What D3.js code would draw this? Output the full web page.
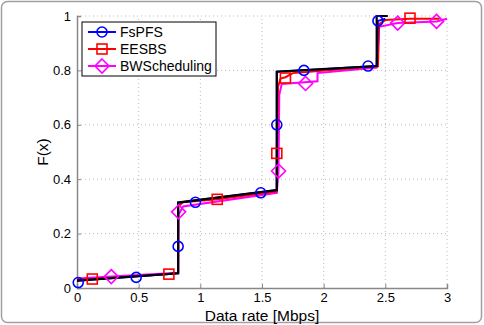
<!DOCTYPE html>
<html>
<head>
<meta charset="utf-8">
<script src="https://cdnjs.cloudflare.com/ajax/libs/d3/7.8.5/d3.min.js"></script>
<style>
  body { margin: 0; background: #fff; }
  svg { font-family: "Liberation Sans", Arial, sans-serif; }
</style>
</head>
<body>
<div id="chart"></div>
<script>
// empirical CDF curves (x = data rate in Mbps, y = F(x))
var reference = [[0,0.027],[0.82,0.054],[0.82,0.314],[1.62,0.36],[1.62,0.795],[2.43,0.816],[2.43,1.0],[2.52,1.0]];
var fspfsLine = [[0,0.027],[0.82,0.054],[0.82,0.314],[1.62,0.36],[1.62,0.795],[2.43,0.816],[2.44,0.982],[2.5,0.99]];
var fspfsMarks = [[0.01,0.02],[0.48,0.039],[0.82,0.153],[0.96,0.315],[1.49,0.35],[1.62,0.60],[1.84,0.80],[2.36,0.816],[2.44,0.982]];
var eesbsLine = [[0,0.03],[0.124,0.033],[0.745,0.051],[0.82,0.056],[0.82,0.30],[0.86,0.315],[1.137,0.326],[1.62,0.355],[1.62,0.495],[1.63,0.74],[1.65,0.77],[1.69,0.775],[1.75,0.79],[2.44,0.815],[2.45,0.97],[2.5,0.985],[2.7,0.99],[2.94,0.99]];
var eesbsMarks = [[0.124,0.033],[0.745,0.051],[1.137,0.326],[1.62,0.495],[1.69,0.772],[2.70,0.992]];
var bwLine = [[0,0.035],[0.278,0.042],[0.82,0.056],[0.824,0.27],[0.86,0.30],[1.62,0.35],[1.634,0.43],[1.64,0.71],[1.66,0.75],[1.95,0.76],[1.95,0.79],[2.43,0.81],[2.45,0.96],[2.6,0.974],[2.915,0.98],[3.0,0.99]];
var bwMarks = [[0.278,0.042],[0.824,0.28],[1.634,0.43],[1.853,0.752],[2.6,0.974],[2.915,0.98]];
var xTicks = [0, 0.5, 1, 1.5, 2, 2.5, 3];
var yTicks = [0, 0.2, 0.4, 0.6, 0.8, 1];
var seriesNames = ["FsPFS", "EESBS", "BWScheduling"];
var seriesColors = ["#0000ff", "#ff0000", "#ff00ff"];
var seriesShapes = ["circle", "square", "diamond"];

var W = 484, H = 325;
var margin = { left: 77, right: 37, top: 16, bottom: 37 };

var svg = d3.select("#chart").append("svg")
    .attr("width", W)
    .attr("height", H);

// outer frame
svg.append("rect")
    .attr("x", 1.5).attr("y", 1.5)
    .attr("width", W - 4).attr("height", H - 4)
    .attr("rx", 6)
    .attr("fill", "#fff")
    .attr("stroke", "#a0a0a0")
    .attr("stroke-width", 1.5);

var xScale = d3.scaleLinear().domain([0, 3]).range([margin.left, W - margin.right]);
var yScale = d3.scaleLinear().domain([0, 1]).range([H - margin.bottom, margin.top]);

// grid
var grid = svg.append("g");
grid.selectAll(".gx").data(xTicks.slice(1)).enter().append("line")
    .attr("x1", function(d) { return xScale(d); })
    .attr("x2", function(d) { return xScale(d); })
    .attr("y1", yScale(0)).attr("y2", yScale(1))
    .attr("stroke", "#bbb").attr("stroke-dasharray", "1 3");
grid.selectAll(".gy").data(yTicks.slice(1)).enter().append("line")
    .attr("y1", function(d) { return yScale(d); })
    .attr("y2", function(d) { return yScale(d); })
    .attr("x1", xScale(0)).attr("x2", xScale(3))
    .attr("stroke", "#bbb").attr("stroke-dasharray", "1 3");

// axes
var xAxis = d3.axisBottom(xScale).tickValues(xTicks).tickSize(-4).tickPadding(5).tickFormat(d3.format("~g"));
var yAxis = d3.axisLeft(yScale).tickValues(yTicks).tickSize(-4).tickPadding(6).tickFormat(d3.format("~g"));

var gx = svg.append("g")
    .attr("transform", "translate(0," + yScale(0) + ")")
    .call(xAxis);
var gy = svg.append("g")
    .attr("transform", "translate(" + xScale(0) + ",0)")
    .call(yAxis);
[gx, gy].forEach(function(g) {
    g.select(".domain").attr("stroke", "#888").attr("stroke-width", 1.5);
    g.selectAll(".tick line").attr("stroke", "#888");
    g.selectAll(".tick text").attr("fill", "#000").style("font-size", "13px")
        .style("font-family", "'Liberation Sans', Arial, sans-serif");
});

// axis labels
svg.append("text")
    .attr("x", (xScale(0) + xScale(3)) / 2)
    .attr("y", 321)
    .attr("text-anchor", "middle")
    .style("font-size", "15.5px")
    .text("Data rate [Mbps]");
svg.append("text")
    .attr("transform", "translate(48," + yScale(0.5) + ") rotate(-90)")
    .attr("text-anchor", "middle")
    .style("font-size", "15.5px")
    .text("F(x)");

var line = d3.line()
    .x(function(d) { return xScale(d[0]); })
    .y(function(d) { return yScale(d[1]); });

function drawMarker(g, shape, color, x, y) {
    if (shape === "circle") {
        g.append("circle").attr("cx", x).attr("cy", y).attr("r", 5)
            .attr("fill", "none").attr("stroke", color).attr("stroke-width", 1.6);
    } else if (shape === "square") {
        g.append("rect").attr("x", x - 5).attr("y", y - 5).attr("width", 10).attr("height", 10)
            .attr("fill", "none").attr("stroke", color).attr("stroke-width", 1.6);
    } else {
        g.append("path").attr("d", "M" + x + "," + (y - 7) + "L" + (x + 7) + "," + y + "L" + x + "," + (y + 7) + "L" + (x - 7) + "," + y + "Z")
            .attr("fill", "none").attr("stroke", color).attr("stroke-width", 1.6);
    }
}

var lines = [fspfsLine, eesbsLine, bwLine];
var marks = [fspfsMarks, eesbsMarks, bwMarks];
var plot = svg.append("g");

// colored curves
[2, 1, 0].forEach(function(i) {
    plot.append("path").datum(lines[i]).attr("d", line)
        .attr("fill", "none").attr("stroke", seriesColors[i]).attr("stroke-width", 2);
});
// black reference step
plot.append("path").datum(reference).attr("d", line)
    .attr("fill", "none").attr("stroke", "#000").attr("stroke-width", 2.2);
// markers
[2, 1, 0].forEach(function(i) {
    marks[i].forEach(function(d) {
        drawMarker(plot, seriesShapes[i], seriesColors[i], xScale(d[0]), yScale(d[1]));
    });
});

// legend
var lg = svg.append("g").attr("transform", "translate(82,22)");
lg.append("rect").attr("width", 134).attr("height", 54)
    .attr("fill", "#fff").attr("stroke", "#000").attr("stroke-width", 1);
seriesNames.forEach(function(name, i) {
    var yy = 10 + i * 17;
    lg.append("line").attr("x1", 6).attr("x2", 34).attr("y1", yy).attr("y2", yy)
        .attr("stroke", seriesColors[i]).attr("stroke-width", 2);
    drawMarker(lg, seriesShapes[i], seriesColors[i], 20, yy);
    lg.append("text").attr("x", 38).attr("y", yy + 5)
        .style("font-size", "14px").text(name);
});
</script>
</body>
</html>
